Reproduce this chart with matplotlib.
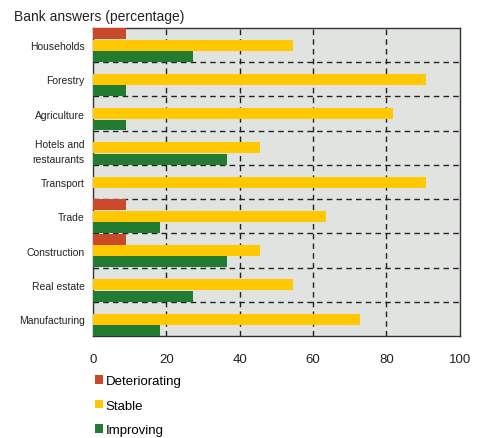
import matplotlib
matplotlib.use("Agg")
import matplotlib.pyplot as plt
import numpy as np

plt.rcParams['font.family'] = ['Liberation Sans', 'DejaVu Sans']

sectors = ["Households", "Forestry", "Agriculture", "Hotels and\nrestaurants",
           "Transport", "Trade", "Construction", "Real estate", "Manufacturing"]
deteriorating = [9.1, 0, 0, 0, 0, 9.1, 9.1, 0, 0]
stable = [54.5, 90.9, 81.8, 45.5, 90.9, 63.6, 45.5, 54.5, 72.7]
improving = [27.3, 9.1, 9.1, 36.4, 0, 18.2, 36.4, 27.3, 18.2]
series_names = ["Deteriorating", "Stable", "Improving"]
colors = ["#C9492A", "#FFC800", "#237A31"]
x_ticks = [0, 20, 40, 60, 80, 100]

fig = plt.figure(figsize=(4.8, 4.39), dpi=100)
ax = fig.add_axes([0.194, 0.232, 0.764, 0.702])
ax.set_facecolor("#E1E3E0")

n = len(sectors)
centers = np.arange(n)
slot = 1 / 3
h = 0.32
for k, (vals, name, c) in enumerate(zip([deteriorating, stable, improving], series_names, colors)):
    ax.barh(centers + (k - 1) * slot, vals, height=h, color=c, label=name, zorder=3)

ax.set_ylim(n - 0.5, -0.5)
ax.set_xlim(0, 100)

# dashed grid: vertical at ticks, horizontal between sectors
for xv in x_ticks[1:-1]:
    ax.axvline(xv, color="#222222", lw=1.0, ls=(0, (4, 3)), zorder=2)
for yv in np.arange(n - 1) + 0.5:
    ax.axhline(yv, color="#222222", lw=1.0, ls=(0, (4, 3)), zorder=2)

ax.set_xticks(x_ticks)
ax.set_xticklabels([str(v) for v in x_ticks], fontsize=9.5, color="#222222")
ax.set_yticks(centers)
ax.set_yticklabels(sectors, fontsize=7.5, color="#222222", linespacing=1.6)
ax.tick_params(length=0, pad=6)
ax.tick_params(axis="x", pad=12)
for s in ax.spines.values():
    s.set_color("#333333")
    s.set_linewidth(1.0)

fig.text(0.029, 0.962, "Bank answers (percentage)", fontsize=10, color="#222222",
         ha="left", va="center")

fig.legend(loc="upper left", bbox_to_anchor=(0.198, 0.143), frameon=False,
           fontsize=9.5, handlelength=0.6, handleheight=0.6, handletextpad=0.2,
           labelspacing=0.95, borderaxespad=0, borderpad=0)

fig.savefig("out.png", dpi=100)
